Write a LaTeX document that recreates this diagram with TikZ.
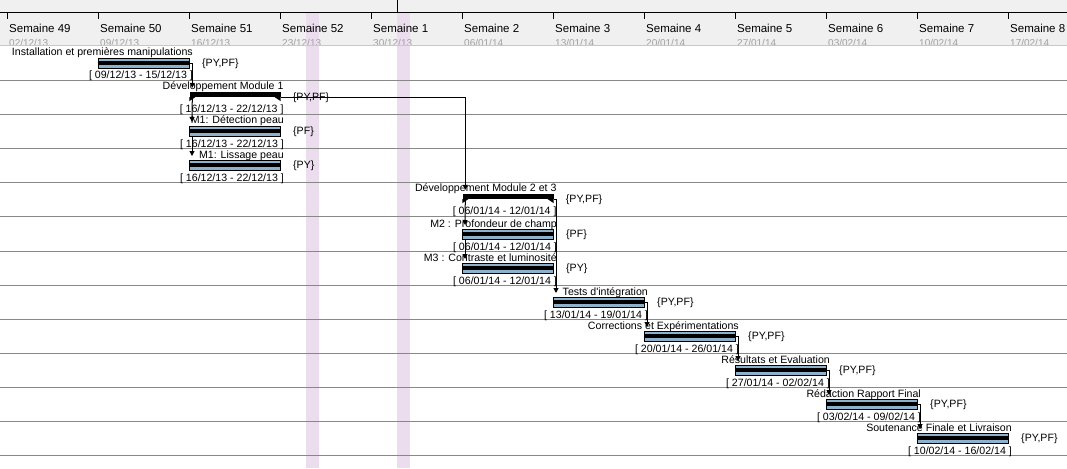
\documentclass[tikz,border=0pt]{standalone}
\usepackage{fontspec}
\setmainfont{Liberation Sans}
\usetikzlibrary{arrows.meta,positioning}

\definecolor{hdrgray}{RGB}{240,240,240}
\definecolor{hdrline}{RGB}{200,200,200}
\definecolor{dategray}{RGB}{160,160,160}
\definecolor{rowgray}{RGB}{136,136,136}
\definecolor{holiday}{RGB}{236,221,238}
\definecolor{barblue}{RGB}{142,178,203}

\begin{document}
\begin{tikzpicture}[x=1pt, y=-1pt,
    task/.style={draw, fill=barblue, line width=1pt, inner sep=0pt, minimum width=91pt, minimum height=10pt},
    summary/.style={fill=black, inner sep=0pt, minimum width=91pt, minimum height=5pt},
    tname/.style={font=\fontsize{10.6}{12}\selectfont, inner sep=0pt, anchor=base east},
    tdate/.style={font=\fontsize{10.6}{12}\selectfont, inner sep=0pt, anchor=base east},
    tres/.style={font=\fontsize{10.6}{12}\selectfont, inner sep=0pt},
    dep/.style={line width=1pt, -{Triangle[width=5pt,length=5pt]}, shorten >=4pt}]
    \useasboundingbox (0,0) rectangle (1067,468);

    % header and holidays
    \fill[hdrgray] (0,0) rectangle (1067,45);
    \fill[holiday] (306,12) rectangle (319,468);
    \fill[holiday] (397,12) rectangle (410,468);
    \foreach \y in {80.5,114.5,148.5,182.5,216.5,251.5,285.5,319.5,353.5,387.5,421.5,455.5}
        \draw[rowgray, line width=1pt] (0,\y) -- (1067,\y);
    \draw[hdrline, line width=1pt] (0,45.5) -- (1067,45.5);
    \draw[line width=1pt] (0,12.5) -- (1067,12.5);
    \draw[line width=1pt] (397.5,0) -- (397.5,12.5);
    \begin{scope}
        \clip (0,0) rectangle (1067,45);
        \foreach \w/\d [count=\i from 0] in {49/{02/12/13},50/{09/12/13},51/{16/12/13},52/{23/12/13},1/{30/12/13},2/{06/01/14},3/{13/01/14},4/{20/01/14},5/{27/01/14},6/{03/02/14},7/{10/02/14},8/{17/02/14}} {
            \draw[line width=1pt] (7.5+91*\i,12.5) -- (7.5+91*\i,19);
            \node[font=\fontsize{11.5}{13}\selectfont, inner sep=0pt, anchor=base west] (wk\i) at (9+91*\i,33) {Semaine \w};
            \node[font=\fontsize{10}{12}\selectfont, text=dategray, inner sep=0pt, anchor=base west] (dt\i) at (9+91*\i,46.5) {\d};
        }
    \end{scope}

    % bars
    \node[task] (install) at (144,63.5) {};
    \node[summary] (dev1) at (235,94.5) {};
    \node[task] (detect) at (235,131.5) {};
    \node[task] (lissage) at (235,165.5) {};
    \node[summary] (dev23) at (508,196.5) {};
    \node[task] (prof) at (508,234.5) {};
    \node[task] (contr) at (508,268.5) {};
    \node[task] (tests) at (599,302.5) {};
    \node[task] (corr) at (690,336.5) {};
    \node[task] (result) at (781,370.5) {};
    \node[task] (redac) at (872,404.5) {};
    \node[task] (soutn) at (963,438.5) {};
    \foreach \t in {install,detect,lissage,prof,contr,tests,corr,result,redac,soutn}
        \fill ([yshift=2.5pt]\t.west) rectangle ([yshift=-1.5pt]\t.east);
    \foreach \s in {dev1,dev23} {
        \fill (\s.south west) -- ++(0,4) -- ++(6,-4) -- cycle;
        \fill (\s.south east) -- ++(0,4) -- ++(-6,-4) -- cycle;
    }

    % labels
    \node[tname] (installN) at ([xshift=3pt,yshift=2pt]install.north east) {Installation et premières manipulations};
    \node[tdate] (installD) at ([xshift=3pt,yshift=-21pt]install.north east) {[ 09/12/13 - 15/12/13 ]};
    \node[tres, right=12pt of install] (installR) {\{PY,PF\}};
    \node[tname] (dev1N) at ([xshift=3pt,yshift=2pt]dev1.north east) {Développement Module 1};
    \node[tdate] (dev1D) at ([xshift=3pt,yshift=-21pt]dev1.north east) {[ 16/12/13 - 22/12/13 ]};
    \node[tres, right=12pt of dev1, yshift=-3pt] (dev1R) {\{PY,PF\}};
    \node[tname] (detectN) at ([xshift=3pt,yshift=2pt]detect.north east) {M1: Détection peau};
    \node[tdate] (detectD) at ([xshift=3pt,yshift=-21pt]detect.north east) {[ 16/12/13 - 22/12/13 ]};
    \node[tres, right=12pt of detect] (detectR) {\{PF\}};
    \node[tname] (lissageN) at ([xshift=3pt,yshift=2pt]lissage.north east) {M1: Lissage peau};
    \node[tdate] (lissageD) at ([xshift=3pt,yshift=-21pt]lissage.north east) {[ 16/12/13 - 22/12/13 ]};
    \node[tres, right=12pt of lissage] (lissageR) {\{PY\}};
    \node[tname] (dev23N) at ([xshift=3pt,yshift=2pt]dev23.north east) {Développement Module 2 et 3};
    \node[tdate] (dev23D) at ([xshift=3pt,yshift=-21pt]dev23.north east) {[ 06/01/14 - 12/01/14 ]};
    \node[tres, right=12pt of dev23, yshift=-3pt] (dev23R) {\{PY,PF\}};
    \node[tname] (profN) at ([xshift=3pt,yshift=2pt]prof.north east) {M2 : Profondeur de champ};
    \node[tdate] (profD) at ([xshift=3pt,yshift=-21pt]prof.north east) {[ 06/01/14 - 12/01/14 ]};
    \node[tres, right=12pt of prof] (profR) {\{PF\}};
    \node[tname] (contrN) at ([xshift=3pt,yshift=2pt]contr.north east) {M3 : Contraste et luminosité};
    \node[tdate] (contrD) at ([xshift=3pt,yshift=-21pt]contr.north east) {[ 06/01/14 - 12/01/14 ]};
    \node[tres, right=12pt of contr] (contrR) {\{PY\}};
    \node[tname] (testsN) at ([xshift=3pt,yshift=2pt]tests.north east) {Tests d\textquotesingle intégration};
    \node[tdate] (testsD) at ([xshift=3pt,yshift=-21pt]tests.north east) {[ 13/01/14 - 19/01/14 ]};
    \node[tres, right=12pt of tests] (testsR) {\{PY,PF\}};
    \node[tname] (corrN) at ([xshift=3pt,yshift=2pt]corr.north east) {Corrections et Expérimentations};
    \node[tdate] (corrD) at ([xshift=3pt,yshift=-21pt]corr.north east) {[ 20/01/14 - 26/01/14 ]};
    \node[tres, right=12pt of corr] (corrR) {\{PY,PF\}};
    \node[tname] (resultN) at ([xshift=3pt,yshift=2pt]result.north east) {Résultats et Evaluation};
    \node[tdate] (resultD) at ([xshift=3pt,yshift=-21pt]result.north east) {[ 27/01/14 - 02/02/14 ]};
    \node[tres, right=12pt of result] (resultR) {\{PY,PF\}};
    \node[tname] (redacN) at ([xshift=3pt,yshift=2pt]redac.north east) {Rédaction Rapport Final};
    \node[tdate] (redacD) at ([xshift=3pt,yshift=-21pt]redac.north east) {[ 03/02/14 - 09/02/14 ]};
    \node[tres, right=12pt of redac] (redacR) {\{PY,PF\}};
    \node[tname] (soutnN) at ([xshift=3pt,yshift=2pt]soutn.north east) {Soutenance Finale et Livraison};
    \node[tdate] (soutnD) at ([xshift=3pt,yshift=-21pt]soutn.north east) {[ 10/02/14 - 16/02/14 ]};
    \node[tres, right=12pt of soutn] (soutnR) {\{PY,PF\}};

    % dependencies
    \draw[dep] (install.east) -| ([xshift=3pt]dev1.north west);
    \draw[dep] ([xshift=3pt]dev1.south west) -- ([xshift=3pt]detect.north west);
    \draw[dep] ([xshift=3pt]detect.south west) -- ([xshift=3pt]lissage.north west);
    \draw[dep] (dev1.south east) -| ([xshift=3pt]dev23.north west);
    \draw[dep] ([xshift=3pt]dev23.south west) -- ([xshift=3pt]prof.north west);
    \draw[dep] ([xshift=3pt]prof.south west) -- ([xshift=3pt]contr.north west);
    \draw[dep] (dev23.south east) -| ([xshift=3pt]tests.north west);
    \draw[dep] (tests.east) -| ([xshift=3pt]corr.north west);
    \draw[dep] (corr.east) -| ([xshift=3pt]result.north west);
    \draw[dep] (result.east) -| ([xshift=3pt]redac.north west);
    \draw[dep] (redac.east) -| ([xshift=3pt]soutn.north west);
\end{tikzpicture}
\end{document}
